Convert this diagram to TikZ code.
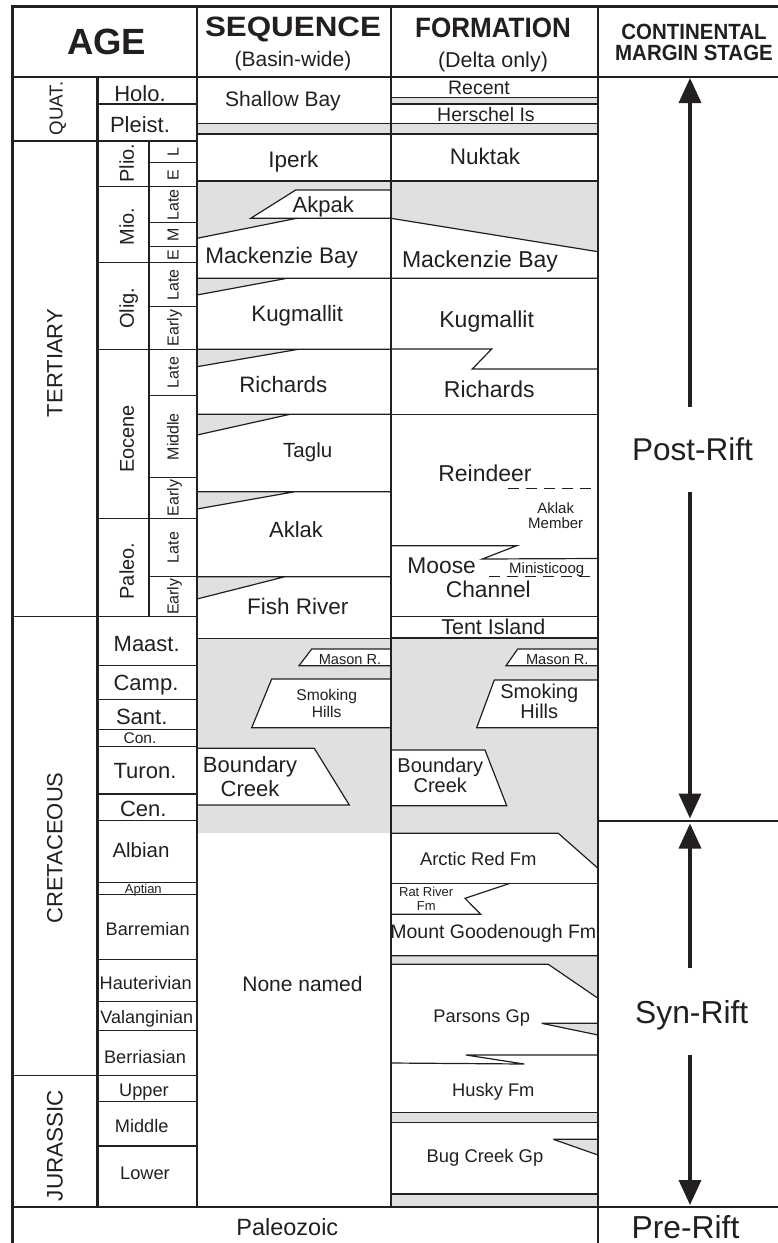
\documentclass[tikz,border=0pt]{standalone}
\usepackage{fontspec}
\setmainfont{Liberation Sans}
\usepackage{graphicx}
\usetikzlibrary{arrows.meta}
\definecolor{ink}{RGB}{35,31,32}
\definecolor{shale}{RGB}{224,225,223}

\begin{document}
\begin{tikzpicture}[
  x=1pt, y=-1pt,
  frame/.style={line width=2.5pt, draw=ink},
  rule/.style={line width=1.2pt, draw=ink},
  hiatus/.style={fill=shale},
  unit/.style={rule, fill=white},
  member/.style={rule, dash pattern=on 11pt off 7pt},
  lbl/.style={font=\fontsize{#1}{#1}\selectfont, text=ink, inner sep=0pt, text height=0.716*#1pt, text depth=0pt},
  lbl/.default=22.5,
  hdr/.style={lbl=#1, font=\fontsize{#1}{#1}\selectfont\bfseries},
  vlbl/.style={lbl=#1, rotate=90},
  stack/.style={align=center, inner sep=0pt, text=ink},
  stagearrow/.style={line width=3.5pt, draw=ink, -{Triangle[length=25pt, width=22pt]}},
]
\useasboundingbox (0,0) rectangle (778,1243);

% Hiatus fills, sequence column
\fill[hiatus] (197,123.3) rectangle (391,134);
\fill[hiatus] (197,181) -- (391,181) -- (391,190) -- (295.7,190) -- (250.7,218.3) -- (296.7,218.3) -- (197,238.3) -- cycle;
\fill[hiatus] (197,638.5) rectangle (391,833.3);
% Hiatus fills, formation column
\fill[hiatus] (391,97.7) rectangle (598,104);
\fill[hiatus] (391,123.3) rectangle (598,134);
\fill[hiatus] (391,181) -- (598,181) -- (598,251.7) -- (391,218.3) -- cycle;
\fill[hiatus] (391,638) -- (598,638) -- (598,868.3) -- (558.3,833.3) -- (391,833.3) -- cycle;
\fill[hiatus] (391,955.7) -- (598,955.7) -- (598,998.3) -- (548.3,964.3) -- (391,964.3) -- cycle;
\fill[hiatus] (541.7,1023.3) -- (598,1023.3) -- (598,1035) -- cycle;
\fill[hiatus] (391,1112.7) rectangle (598,1122.3);
\fill[hiatus] (553.3,1139.3) -- (598,1139.3) -- (598,1155) -- cycle;
\fill[hiatus] (391,1194) rectangle (598,1207);

% Sequence boundaries
\draw[rule] (197,123.3) -- (391,123.3) (197,134) -- (391,134) (197,181) -- (391,181);
\draw[unit] (250.7,218.3) -- (295.7,190) -- (391,190) -- (391,218.3) -- cycle;
\draw[rule] (197,238.3) -- (296.7,218.3);
\foreach \y/\xe/\yb in {278.3/287/295, 349.3/298.3/366.7, 414.3/290/435, 491.7/295/509, 576.7/285/599} {
  \fill[hiatus] (197,\y) -- (\xe,\y) -- (197,\yb) -- cycle;
  \draw[rule] (197,\y) -- (391,\y) (197,\yb) -- (\xe,\y);
}
\draw[rule] (197,638.5) -- (391,638.5);
\draw[unit] (299,665.7) -- (311.7,649) -- (391,649) -- (391,665.7) -- cycle;
\draw[unit] (251.7,727.7) -- (271.7,679) -- (391,679) -- (391,727.7) -- cycle;
\draw[unit] (197,748.3) -- (314.3,748.3) -- (349.3,805) -- (197,805) -- cycle;

% Formation boundaries
\draw[rule] (391,97.7) -- (598,97.7) (391,104) -- (598,104) (391,123.3) -- (598,123.3) (391,134) -- (598,134) (391,181) -- (598,181);
\draw[rule] (391,218.3) -- (598,251.7) (391,278.3) -- (598,278.3);
\draw[rule] (391,349) -- (491.7,349) -- (472.3,369) -- (598,369);
\draw[rule] (391,414.3) -- (598,414.3);
\draw[member] (507.7,488.3) -- (598,488.3);
\draw[rule] (391,545.7) -- (516.7,545.7) -- (482.3,559) -- (598,558.5);
\draw[member] (489.3,576.7) -- (598,576.7);
\draw[rule] (391,616.3) -- (598,616.3) (391,638) -- (598,638);
\draw[unit] (506,665.7) -- (517.7,649) -- (598,649) -- (598,665.7) -- cycle;
\draw[unit] (476.7,727.7) -- (494.3,680) -- (598,680) -- (598,727.7) -- cycle;
\draw[unit] (391,750) -- (485,750) -- (506.7,805.7) -- (391,805.7) -- cycle;
\draw[rule] (391,833.3) -- (558.3,833.3) -- (598,868.3);
\draw[rule] (391,883.3) -- (598,883.3);
\draw[rule] (391,914.3) -- (480.7,914.3) -- (465,898.3) -- (510,883.3);
\draw[rule] (391,955.7) -- (598,955.7) (391,964.3) -- (548.3,964.3) -- (598,998.3);
\draw[rule] (541.7,1023.3) -- (598,1023.3) (541.7,1023.3) -- (598,1035);
\draw[rule] (598,1055) -- (466,1055) -- (524.3,1064) -- (391,1063);
\draw[rule] (391,1112.7) -- (598,1112.7) (391,1122.3) -- (598,1122.3);
\draw[rule] (553.3,1139.3) -- (598,1139.3) (553.3,1139.3) -- (598,1155);
\draw[rule] (391,1194) -- (598,1194);

% Age grid
\foreach \y in {141, 616.7, 1075.7} \draw[rule] (12.5,\y) -- (197,\y);
\foreach \y in {104, 186.7, 262.7, 349.3, 518.3, 665.3, 699.3, 729.3, 746.7, 794, 820.7, 882.7, 894.7, 959.3, 1001.3, 1030.7, 1101.7, 1146}
  \draw[rule] (97.5,\y) -- (197,\y);
\foreach \y in {162.7, 222.7, 246.7, 306.7, 395.7, 477.7, 576.7} \draw[rule] (149,\y) -- (197,\y);
\draw[line width=1.4pt, draw=ink] (149,141) -- (149,616.7);

% Frame
\draw[rule] (12.5,77) -- (778,77) (12.5,1207) -- (778,1207) (598,821) -- (778,821);
\draw[frame] (11.25,6.5) -- (778,6.5);
\draw[frame] (12.5,6.5) -- (12.5,1243) (97.5,77) -- (97.5,1207) (197,6.5) -- (197,1207) (391,6.5) -- (391,1207) (598,6.5) -- (598,1243);

% Headers
\node[hdr=36.5] (age) at (106.7,41.7) {AGE};
\node[hdr=28] (seqhead) at (293,26) {\scalebox{1.12}[1]{SEQUENCE}};
\node[lbl=21] (seqnote) at (293,59) {(Basin-wide)};
\node[hdr=28] (fmnhead) at (493,27) {\scalebox{0.93}[1]{FORMATION}};
\node[lbl=21.5] (fmnnote) at (493,60) {(Delta only)};
\node[stack, font=\fontsize{22}{21.7}\selectfont\bfseries] (marginhead) at (694,42.5)
  {\scalebox{0.93}[1]{CONTINENTAL}\\\scalebox{0.93}[1]{MARGIN STAGE}};

% Eras and epochs
\node[vlbl=18.7] (quat) at (56,108.5) {QUAT.};
\node[vlbl=22] (tert) at (54.5,363) {TERTIARY};
\node[vlbl=22] (cret) at (54.5,848) {CRETACEOUS};
\node[vlbl=22.5] (jur) at (54.5,1145.5) {JURASSIC};
\node[vlbl=20] (plio) at (126.7,163) {Plio.};
\node[vlbl=20] (mio) at (126.7,226.7) {Mio.};
\node[vlbl=20] (olig) at (126.7,308) {Olig.};
\node[vlbl=20] (eoc) at (126.7,439) {Eocene};
\node[vlbl=20] (paleo) at (126.7,571) {Paleo.};
\node[vlbl=16] (plioL) at (173,152) {L};
\node[vlbl=16] (plioE) at (173,175) {E};
\node[vlbl=16] (mioL) at (173,204.7) {Late};
\node[vlbl=16] (mioM) at (173,234.7) {M};
\node[vlbl=16] (mioE) at (173,254.7) {E};
\node[vlbl=16] (oligL) at (173,284.7) {Late};
\node[vlbl=16] (oligE) at (173,328) {Early};
\node[vlbl=16] (eocL) at (173,372.5) {Late};
\node[vlbl=16] (eocM) at (173,436.7) {Middle};
\node[vlbl=16] (eocE) at (173,498) {Early};
\node[vlbl=16] (paleoL) at (173,547.5) {Late};
\node[vlbl=16] (paleoE) at (173,596.7) {Early};

% Stages
\node[lbl=22] (holo) at (140,93.3) {Holo.};
\node[lbl=22] (pleist) at (140,125) {Pleist.};
\node[lbl=22] (maast) at (146.7,644) {Maast.};
\node[lbl=22] (camp) at (146,682.7) {Camp.};
\node[lbl=22] (sant) at (141.7,716.7) {Sant.};
\node[lbl=15.5] (con) at (140,737.7) {Con.};
\node[lbl=22] (turon) at (145,771) {Turon.};
\node[lbl=22] (cen) at (143.3,809) {Cen.};
\node[lbl=20.5] (alb) at (141,850) {Albian};
\node[lbl=13] (apt) at (143.3,888.7) {Aptian};
\node[lbl=18.2] (barr) at (147.7,929) {Barremian};
\node[lbl=18.2] (haut) at (145.7,983.3) {Hauterivian};
\node[lbl=18] (val) at (146.7,1016.7) {Valanginian};
\node[lbl=18.2] (berr) at (145,1057.3) {Berriasian};
\node[lbl=18.2] (jurU) at (144,1090) {Upper};
\node[lbl=18.2] (jurM) at (141.7,1126) {Middle};
\node[lbl=18.2] (jurL) at (145,1173.3) {Lower};

% Sequences
\node[lbl=21] (shallow) at (283,99.3) {Shallow Bay};
\node[lbl] (iperk) at (293.3,159.5) {Iperk};
\node[lbl=22] (akpak) at (323.3,205) {Akpak};
\node[lbl] (mackseq) at (281.7,255) {Mackenzie Bay};
\node[lbl=22.3] (kugseq) at (297.3,313.8) {Kugmallit};
\node[lbl=22.3] (richseq) at (283.3,385) {Richards};
\node[lbl=20.5] (taglu) at (307.7,450) {Taglu};
\node[lbl=22] (aklak) at (296,529.7) {Aklak};
\node[lbl] (fish) at (297.7,606.7) {Fish River};
\node[lbl=14.6] (masonseq) at (350,659.3) {Mason R.};
\node[stack, font=\fontsize{15.6}{17.3}\selectfont] (smokeseq) at (326.7,703.7) {Smoking\\Hills};
\node[stack, font=\fontsize{22}{23.3}\selectfont] (bdryseq) at (250,776.7) {Boundary\\Creek};
\node[lbl=21] (nonenamed) at (302.5,984) {None named};

% Formations
\node[lbl=19.5] (recent) at (479,87.7) {Recent};
\node[lbl=19.5] (herschel) at (486,114.2) {Herschel Is};
\node[lbl] (nuktak) at (485,156.7) {Nuktak};
\node[lbl=23] (mackfm) at (480,258.8) {Mackenzie Bay};
\node[lbl=23] (kugfm) at (486.7,319) {Kugmallit};
\node[lbl=23] (richfm) at (489.3,388.8) {Richards};
\node[lbl=23] (reindeer) at (485,473.5) {Reindeer};
\node[stack, font=\fontsize{15}{15}\selectfont] (aklakmbr) at (555.7,515.5) {Aklak\\Member};
\node[lbl=22.8] (moose) at (441.7,565.5) {Moose};
\node[lbl=15] (ministicoog) at (546.7,567.7) {Ministicoog};
\node[lbl=22.8] (channel) at (488.3,589.2) {Channel};
\node[lbl=21.5] (tent) at (493.3,626.7) {Tent Island};
\node[lbl=14.6] (masonfm) at (557.3,659.3) {Mason R.};
\node[stack, font=\fontsize{20}{19.3}\selectfont] (smokefm) at (539.3,701.3) {Smoking\\Hills};
\node[stack, font=\fontsize{20}{20.7}\selectfont] (bdryfm) at (440.3,775.3) {Boundary\\Creek};
\node[lbl=18.4] (arctic) at (478.3,858.8) {Arctic Red Fm};
\node[stack, font=\fontsize{13}{13.7}\selectfont] (ratriver) at (426.2,899) {Rat River\\Fm};
\node[lbl=19.5] (goodenough) at (493.3,932) {Mount Goodenough Fm};
\node[lbl=18.3] (parsons) at (481.7,1015.5) {Parsons Gp};
\node[lbl=18.3] (husky) at (493.3,1090.2) {Husky Fm};
\node[lbl=18.4] (bugcreek) at (485,1156.3) {Bug Creek Gp};
\node[lbl=23.5] (paleozoic) at (287.3,1226.7) {Paleozoic};

% Margin stages
\node[lbl=31.5, minimum height=85pt] (postrift) at (692.5,449.7) {Post-Rift};
\node[lbl=31.8, minimum height=87pt] (synrift) at (691.7,1011.7) {Syn-Rift};
\node[lbl=31.8] (prerift) at (685.5,1226.7) {Pre-Rift};
\coordinate (posttop) at (690,78);
\coordinate (postbot) at (690,818.5);
\coordinate (syntop) at (690,823.5);
\coordinate (synbot) at (690,1205);

% Arrows
\draw[stagearrow] (postrift.north -| posttop) -- (posttop);
\draw[stagearrow] (postrift.south -| postbot) -- (postbot);
\draw[stagearrow] (synrift.north -| syntop) -- (syntop);
\draw[stagearrow] (synrift.south -| synbot) -- (synbot);
\end{tikzpicture}
\end{document}
